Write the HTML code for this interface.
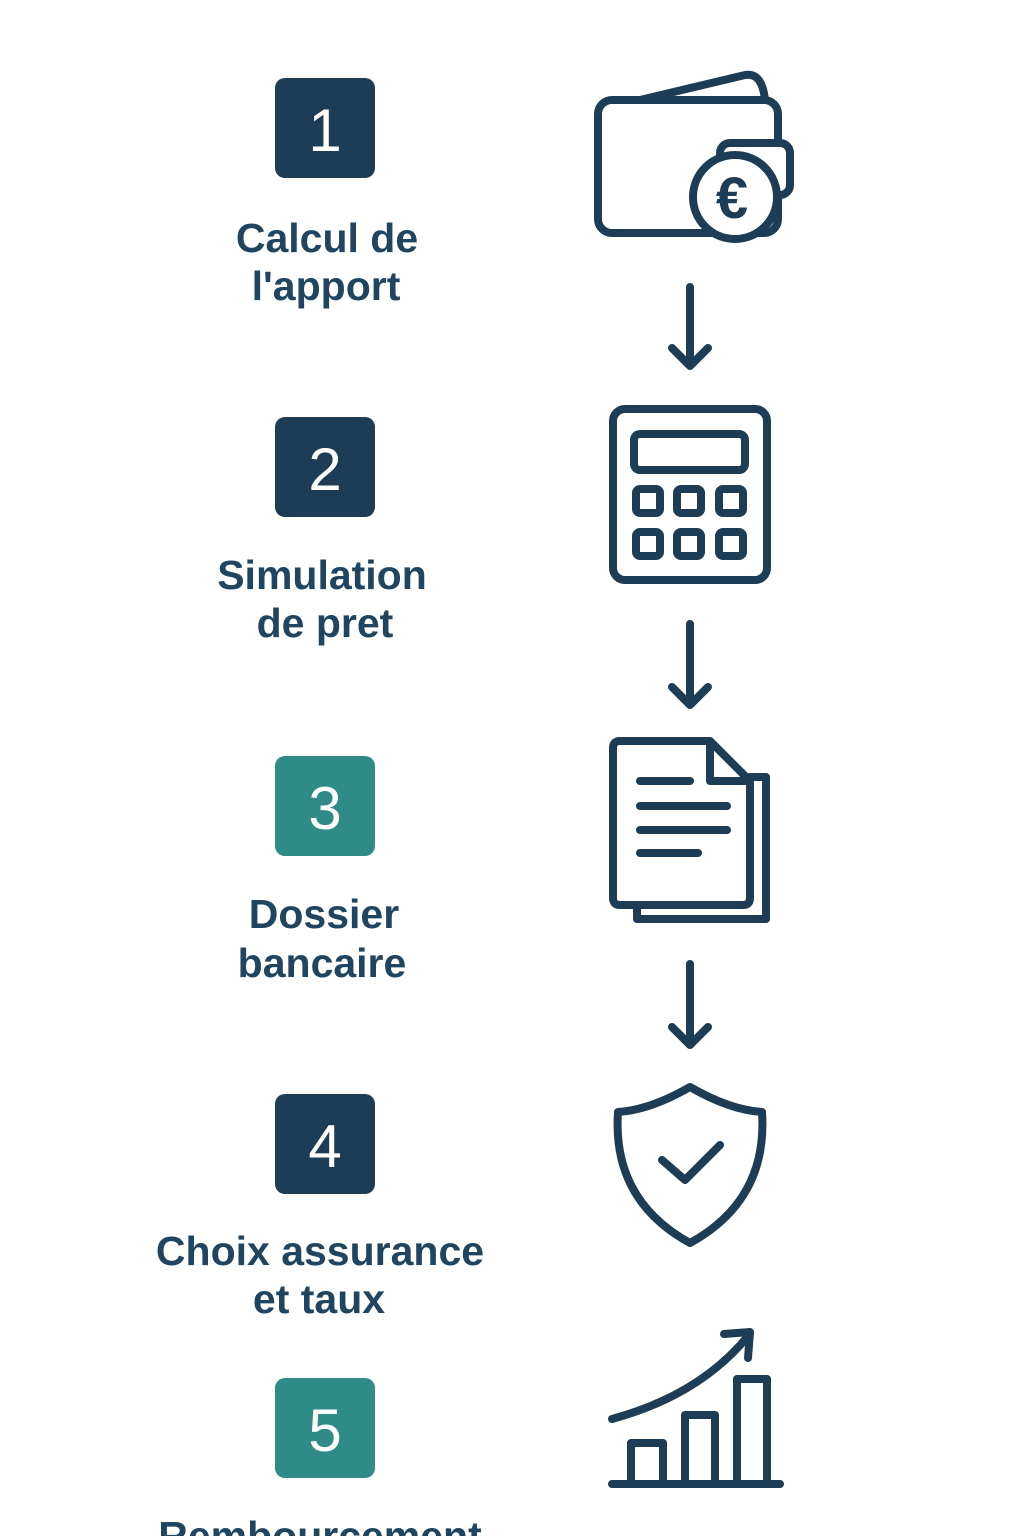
<!DOCTYPE html>
<html><head><meta charset="utf-8"><style>
html,body{margin:0;padding:0;background:#fff;}
svg{display:block;}
.t{font-family:"Liberation Sans",sans-serif;font-weight:bold;font-size:41px;fill:#1f4560;text-anchor:middle;}
.n{font-family:"Liberation Sans",sans-serif;font-size:60px;fill:#fff;text-anchor:middle;}
.i{fill:none;stroke:#1c3d55;stroke-width:8;stroke-linecap:round;stroke-linejoin:round;}
.w{fill:#fff;}
</style></head><body>
<svg width="1024" height="1536" viewBox="0 0 1024 1536" xmlns="http://www.w3.org/2000/svg">
<rect width="1024" height="1536" fill="#fff"/>
<rect x="275" y="78" width="100" height="100" rx="10" fill="#1c3d55"/>
<text class="n" x="325" y="151">1</text>
<rect x="275" y="417" width="100" height="100" rx="10" fill="#1c3d55"/>
<text class="n" x="325" y="490">2</text>
<rect x="275" y="756" width="100" height="100" rx="10" fill="#2e8b87"/>
<text class="n" x="325" y="829">3</text>
<rect x="275" y="1094" width="100" height="100" rx="10" fill="#1c3d55"/>
<text class="n" x="325" y="1167">4</text>
<rect x="275" y="1378" width="100" height="100" rx="10" fill="#2e8b87"/>
<text class="n" x="325" y="1451">5</text>
<text class="t" x="327" y="252">Calcul de</text>
<text class="t" x="326" y="300">l'apport</text>
<text class="t" x="322" y="589">Simulation</text>
<text class="t" x="325" y="637">de pret</text>
<text class="t" x="324" y="928">Dossier</text>
<text class="t" x="322" y="977">bancaire</text>
<text class="t" x="320" y="1265">Choix assurance</text>
<text class="t" x="319" y="1313">et taux</text>
<text class="t" x="320" y="1550">Rembourcement</text>
<path class="i" d="M640,100 L745,75 Q762,72 765,100"/>
<rect class="i" x="598" y="100" width="180" height="133" rx="14"/>
<rect class="i w" x="720" y="143" width="70" height="52" rx="10"/>
<circle class="i w" cx="735" cy="197" r="42"/>
<text x="732" y="218" font-family="Liberation Sans,sans-serif" font-weight="bold" font-size="58" fill="#1c3d55" text-anchor="middle">€</text>
<g class="i">
<path d="M690,287 V365 M672,348 L690,366 L708,348"/>
<path d="M690,624 V704 M672,687 L690,705 L708,687"/>
<path d="M690,964 V1044 M672,1027 L690,1045 L708,1027"/>
</g>
<rect class="i" x="613" y="409" width="154" height="171" rx="12"/>
<rect class="i" x="634" y="434" width="111" height="36" rx="6"/>
<g class="i" stroke-width="7">
<rect x="636" y="489" width="24" height="24" rx="4"/><rect x="677" y="489" width="24" height="24" rx="4"/><rect x="719" y="489" width="24" height="24" rx="4"/>
<rect x="636" y="532" width="24" height="24" rx="4"/><rect x="677" y="532" width="24" height="24" rx="4"/><rect x="719" y="532" width="24" height="24" rx="4"/>
</g>
<path class="i" d="M750,777 H766 V919 H637 V905"/>
<path class="i w" d="M613,748 Q613,741 620,741 H710 L750,781 V898 Q750,905 743,905 H620 Q613,905 613,898 Z"/>
<path class="i" d="M710,743 V781 H748"/>
<g class="i" stroke-width="7">
<path d="M640,781 H690 M640,806 H727 M640,830 H727 M640,853 H698"/>
</g>
<path class="i" d="M690,1087 Q650,1110 618,1112 Q612,1200 690,1243 Q768,1200 762,1112 Q730,1110 690,1087 Z"/>
<path class="i" d="M662,1160 L685,1180 L720,1145"/>
<path class="i" d="M612,1484 H780"/>
<path class="i" d="M631,1484 V1443 H663 V1484"/>
<path class="i" d="M685,1484 V1415 H715 V1484"/>
<path class="i" d="M737,1484 V1379 H767 V1484"/>
<path class="i" d="M612,1419 Q700,1395 748,1336"/>
<path class="i" d="M724,1334 L750,1332 L748,1358"/>
</svg>
</body></html>
